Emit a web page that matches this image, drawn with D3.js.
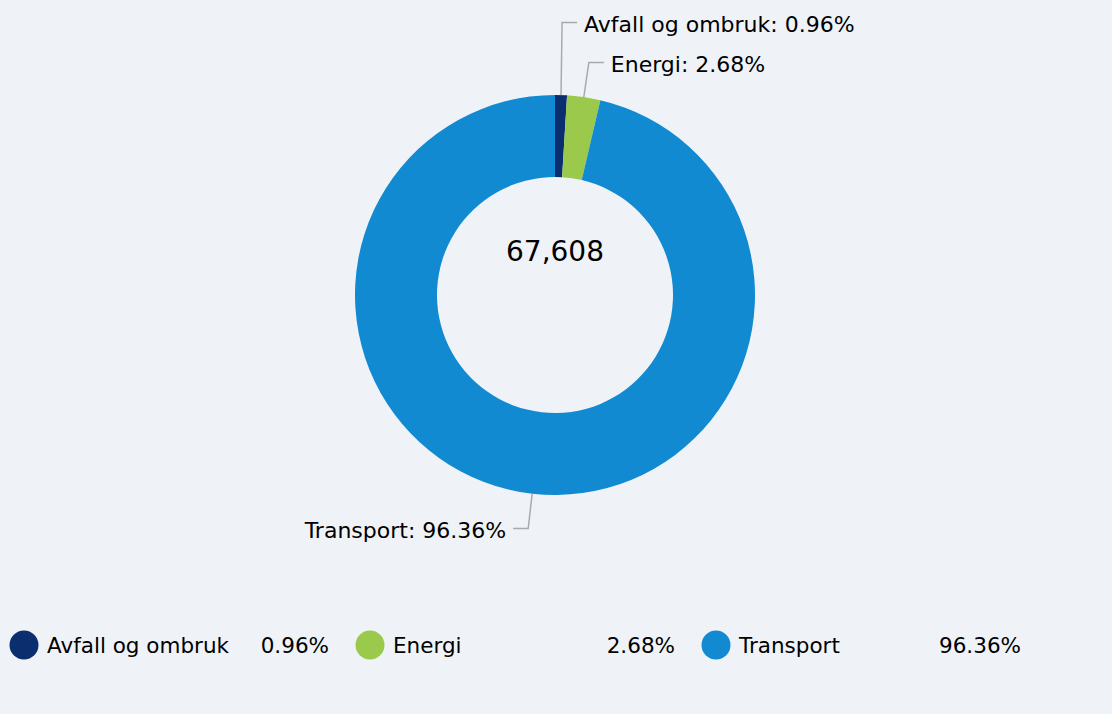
<!DOCTYPE html>
<html>
<head>
<meta charset="utf-8">
<script src="https://cdn.jsdelivr.net/npm/d3@7"></script>
<style>
  html, body { margin: 0; padding: 0; background: #eff3f7; }
  svg { display: block; }
</style>
</head>
<body>
<div id="chart"></div>
<script>
// Utslipp per sektor (donut med sum i midten)
const categories = ["Avfall og ombruk", "Energi", "Transport"];
const values = [649, 1812, 65147];
const colors = ["#0b2f6e", "#9bc94b", "#128ad1"];

const width = 1112, height = 714;
const cx = 555, cy = 295;
const outerR = 200, innerR = 118;
const font = "'DejaVu Sans', Verdana, sans-serif";

const total = d3.sum(values);
const pctFmt = v => (v / total * 100).toFixed(2) + "%";

const svg = d3.select("#chart").append("svg")
  .attr("width", width).attr("height", height)
  .style("font-family", font);

svg.append("rect").attr("width", width).attr("height", height).attr("fill", "#eff3f7");

const data = categories.map((c, i) => ({name: c, value: values[i], color: colors[i]}));
const pie = d3.pie().value(d => d.value).sort(null);
const arcs = pie(data);
const arc = d3.arc().innerRadius(innerR).outerRadius(outerR);

const g = svg.append("g").attr("transform", `translate(${cx},${cy})`);

g.selectAll("path.slice").data(arcs).join("path")
  .attr("class", "slice")
  .attr("d", arc)
  .attr("fill", d => d.data.color);

// Sum i midten
g.append("text")
  .attr("x", 0).attr("y", -44)
  .attr("text-anchor", "middle").attr("dominant-baseline", "central")
  .attr("font-size", 28).attr("fill", "#000")
  .text(d3.format(",")(total));

// Dataetiketter med knekklinjer
const labelR = outerR + 35;
const labels = arcs.map(a => {
  const mid = (a.startAngle + a.endAngle) / 2;
  return {
    a, mid,
    right: Math.sin(mid) >= 0,
    x0: Math.sin(mid) * outerR, y0: -Math.cos(mid) * outerR,
    x1: Math.sin(mid) * labelR, y1: -Math.cos(mid) * labelR
  };
});
// enkel kollisjonshåndtering: skyv etiketter på samme side fra hverandre
for (const side of [true, false]) {
  const grp = labels.filter(l => l.right === side).sort((p, q) => q.y1 - p.y1);
  for (let i = 1; i < grp.length; i++) {
    if (grp[i - 1].y1 - grp[i].y1 < 40) grp[i].y1 = grp[i - 1].y1 - 40;
  }
}

for (const l of labels) {
  const dir = l.right ? 1 : -1;
  const x2 = l.x1 + dir * 15;
  g.append("path")
    .attr("d", `M${l.x0},${l.y0}L${l.x1},${l.y1}L${x2},${l.y1}`)
    .attr("fill", "none").attr("stroke", "#aaaaaa").attr("stroke-width", 1.5);
  g.append("text")
    .attr("x", x2 + dir * 7).attr("y", l.y1 + 2)
    .attr("text-anchor", l.right ? "start" : "end")
    .attr("dominant-baseline", "central")
    .attr("font-size", 22).attr("fill", "#000")
    .text(`${l.a.data.name}: ${pctFmt(l.a.data.value)}`);
}

// Tegnforklaring
const legend = svg.append("g").attr("transform", "translate(10,645)");
const item = legend.selectAll("g").data(data).join("g")
  .attr("transform", (d, i) => `translate(${i * 346},0)`);
item.append("circle").attr("cx", 14).attr("cy", 0).attr("r", 14.5).attr("fill", d => d.color);
item.append("text").attr("x", 37).attr("y", 0)
  .attr("dominant-baseline", "central").attr("font-size", 21.5).attr("fill", "#000")
  .text(d => d.name);
item.append("text").attr("x", 319).attr("y", 0)
  .attr("text-anchor", "end")
  .attr("dominant-baseline", "central").attr("font-size", 21.5).attr("fill", "#000")
  .text(d => pctFmt(d.value));
</script>
</body>
</html>
